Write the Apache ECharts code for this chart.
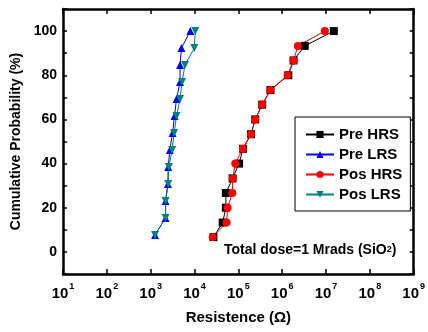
<!DOCTYPE html>
<html>
<head>
<meta charset="utf-8">
<script src="https://cdn.jsdelivr.net/npm/echarts@6/dist/echarts.min.js"></script>
<style>
  html, body { margin: 0; padding: 0; background: #fff; }
  #chart { width: 428px; height: 332px; }
</style>
</head>
<body>
<div id="chart"></div>
<script>
// cumulative probability (%) for each sorted measurement
const probLRS = [7.7, 15.4, 23.1, 30.8, 38.5, 46.2, 53.8, 61.5, 69.2, 76.9, 84.6, 92.3, 100];
const probHRS = [6.7, 13.3, 20, 26.7, 33.3, 40, 46.7, 53.3, 60, 66.7, 73.3, 80, 86.7, 93.3, 100];

// resistance (ohm)
const preHRS = [2.7e4, 4.4e4, 5.2e4, 5.2e4, 7.4e4, 1.04e5, 1.28e5, 1.95e5, 2.43e5, 3.5e5, 5.4e5, 1.38e6, 1.82e6, 3.27e6, 1.51e7];
const posHRS = [2.6e4, 5.4e4, 5.7e4, 7.3e4, 7.5e4, 8.5e4, 1.26e5, 1.95e5, 2.43e5, 3.5e5, 5.4e5, 1.33e6, 1.82e6, 2.28e6, 9.4e6];
const preLRS = [1.26e3, 2.19e3, 2.19e3, 2.47e3, 2.51e3, 2.74e3, 3.16e3, 3.5e3, 3.88e3, 4.68e3, 4.68e3, 5.04e3, 8.04e3];
const posLRS = [1.26e3, 2.19e3, 2.19e3, 2.51e3, 2.6e3, 3.09e3, 3.43e3, 3.88e3, 4.68e3, 5.2e3, 6.07e3, 9.89e3, 1.04e4];

const seriesNames = ["Pre HRS", "Pre LRS", "Pos HRS", "Pos LRS"];
const yLabels = [0, 20, 40, 60, 80, 100];

const font = "Arial, 'Liberation Sans', sans-serif";
const chart = echarts.init(document.getElementById("chart"));

const pairs = (xs, ys) => xs.map((x, i) => [x, ys[i]]);

const makeSeries = (name, data, color, symbol, extra) => ({
  name,
  type: "line",
  data,
  symbol,
  symbolSize: 8,
  lineStyle: { color, width: 1 },
  itemStyle: { color },
  animation: false,
  ...extra,
});

const xAxisBase = {
  type: "log",
  logBase: 10,
  min: 10,
  max: 1e9,
  splitNumber: 8,
  axisLine: { onZero: false, lineStyle: { color: "#000", width: 2.5 } },
  axisTick: { inside: true, length: 5, lineStyle: { color: "#000", width: 1.5 } },
  splitLine: { show: false },
};

const yAxisBase = {
  type: "value",
  min: -10,
  max: 110,
  interval: 10,
  axisLine: { show: true, onZero: false, lineStyle: { color: "#000", width: 2.5 } },
  axisTick: { show: true, inside: true, length: 4, lineStyle: { color: "#000", width: 1.5 } },
  splitLine: { show: false },
};

chart.setOption({
  backgroundColor: "#fff",
  grid: { left: 63, right: 11, top: 9, bottom: 58 },
  legend: {
    orient: "vertical",
    left: 295,
    top: 117,
    padding: [10, 8, 9, 10],
    itemGap: 5,
    itemWidth: 28,
    itemHeight: 9,
    borderColor: "#000",
    borderWidth: 1,
    backgroundColor: "#fff",
    data: seriesNames,
    textStyle: { fontFamily: font, fontWeight: "bold", fontSize: 15, color: "#000" },
  },
  xAxis: [
    {
      ...xAxisBase,
      position: "bottom",
      name: "Resistence (Ω)",
      nameLocation: "middle",
      nameGap: 36,
      nameTextStyle: { fontFamily: font, fontWeight: "bold", fontSize: 15, color: "#000" },
      axisLabel: {
        margin: 8,
        formatter: (v) => `{b|10}{s|${Math.round(Math.log10(v))}}`,
        rich: {
          b: { fontFamily: font, fontWeight: "bold", fontSize: 15, lineHeight: 19, color: "#000", verticalAlign: "bottom" },
          s: { fontFamily: font, fontWeight: "bold", fontSize: 9, color: "#000", verticalAlign: "top", padding: [0, 0, 0, 1] },
        },
      },
    },
    { ...xAxisBase, position: "top", axisLabel: { show: false } },
  ],
  yAxis: [
    {
      ...yAxisBase,
      position: "left",
      name: "Cumulative Probability (%)",
      nameLocation: "middle",
      nameGap: 40,
      nameTextStyle: { fontFamily: font, fontWeight: "bold", fontSize: 14, color: "#000" },
      axisLabel: {
        margin: 6,
        fontFamily: font,
        fontWeight: "bold",
        fontSize: 14,
        color: "#000",
        formatter: (v) => (yLabels.includes(v) ? String(v) : ""),
      },
    },
    { ...yAxisBase, position: "right", axisLabel: { show: false } },
  ],
  graphic: [
    {
      type: "text",
      left: 224,
      top: 243,
      style: {
        text: "{a|Total dose=1 Mrads (SiO}{s|2}{a|)}",
        rich: {
          a: { fontFamily: font, fontWeight: "bold", fontSize: 14, fill: "#000" },
          s: { fontFamily: font, fontWeight: "bold", fontSize: 9, fill: "#000" },
        },
      },
    },
  ],
  series: [
    makeSeries(seriesNames[0], pairs(preHRS, probHRS), "#000000", "rect"),
    makeSeries(seriesNames[1], pairs(preLRS, probLRS), "#0000ff", "triangle"),
    makeSeries(seriesNames[2], pairs(posHRS, probHRS), "#ff0000", "circle"),
    makeSeries(seriesNames[3], pairs(posLRS, probLRS), "#008080", "triangle", { symbolRotate: 180 }),
  ],
});
</script>
</body>
</html>
